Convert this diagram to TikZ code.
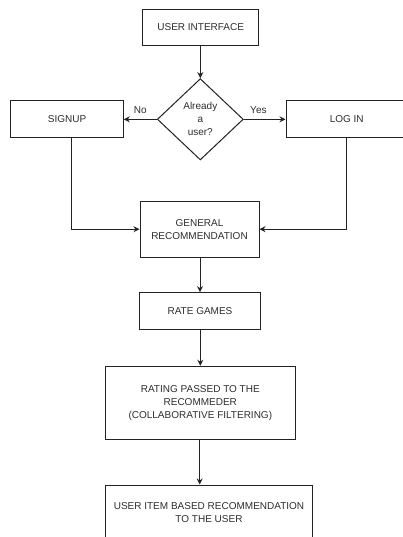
\documentclass[tikz,border=0pt]{standalone}
\usepackage{fontspec}
\setmainfont{Liberation Sans}
\usetikzlibrary{shapes.geometric,arrows.meta}
\definecolor{linec}{HTML}{222222}
\definecolor{textc}{HTML}{2E2E2E}
\begin{document}
\begin{tikzpicture}[x=1pt,y=-1pt,
  every node/.style={font=\fontsize{10}{13}\selectfont, text=textc, align=center},
  box/.style={draw=linec, line width=1pt, rectangle, inner sep=0pt},
  decision/.style={draw=linec, line width=1pt, diamond, inner sep=0pt},
  conn/.style={draw=linec, line width=1pt, -{Stealth[length=6pt,width=6pt]}},
  lbl/.style={font=\fontsize{10}{12}\selectfont, text=textc}]
\path[use as bounding box, clip] (0,0) rectangle (403,537);
\fill[white] (0,0) rectangle (403,537);

\node[box, minimum width=116pt, minimum height=36.4pt] (ui) at (200.7,27.5) {USER INTERFACE};
\node[decision, minimum width=86pt, minimum height=81.3pt] (dec) at (200.3,119.3) {Already\\a\\user?};
\node[box, minimum width=112.6pt, minimum height=36.6pt] (signup) at (67,119.3) {SIGNUP};
\node[box, minimum width=121.4pt, minimum height=36.6pt] (login) at (346.7,119.3) {LOG IN};
\node[box, minimum width=119pt, minimum height=55.7pt] (general) at (199.5,229.2) {GENERAL\\RECOMMENDATION};
\node[box, minimum width=121.4pt, minimum height=37.3pt] (rate) at (200,311.3) {RATE GAMES};
\node[box, minimum width=190pt, minimum height=73.4pt] (rating) at (200.3,403) {RATING PASSED TO THE\\RECOMMEDER\\(COLLABORATIVE FILTERING)};
\node[box, minimum width=207.4pt, minimum height=56pt] (last) at (209,513) {USER ITEM BASED RECOMMENDATION\\TO THE USER};

\coordinate (sdown) at ([xshift=4pt]signup.south);
\coordinate (rdown) at (rating.south -| 199.7,0);
\coordinate (ltop) at (last.north -| 199.7,0);

\draw[conn] (ui.south -| dec.north) -- (dec.north);
\draw[conn] (dec.west) -- node[lbl, above=2pt] {No} (signup.east);
\draw[conn] (dec.east) -- node[lbl, above=2pt, pos=0.35] {Yes} (login.west);
\draw[conn] (sdown) |- (general.west);
\draw[conn] (login.south) |- (general.east);
\draw[conn] (general.south -| rate.north) -- (rate.north);
\draw[conn] (rate.south -| rating.north) -- (rating.north);
\draw[conn] (rdown) -- (ltop);
\end{tikzpicture}
\end{document}
